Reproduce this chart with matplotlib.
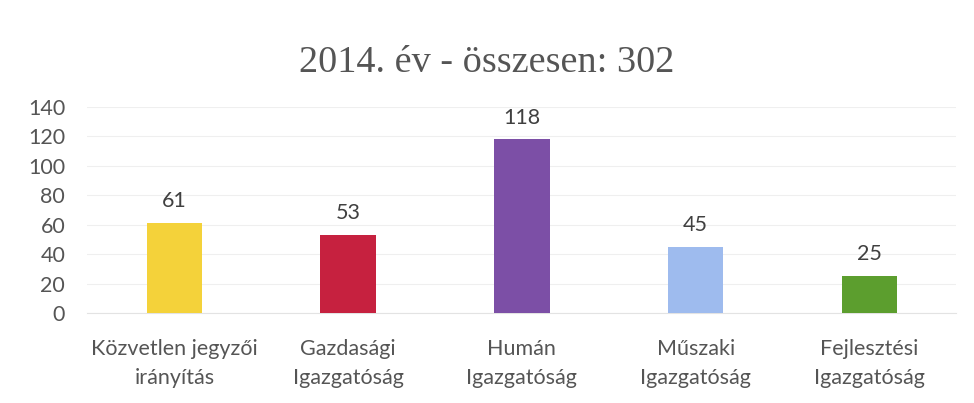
import matplotlib.pyplot as plt
import numpy as np

categories = ["Közvetlen jegyzői\nirányítás", "Gazdasági\nIgazgatóság", "Humán\nIgazgatóság",
              "Műszaki\nIgazgatóság", "Fejlesztési\nIgazgatóság"]
values = [61, 53, 118, 45, 25]
colors = ["#F4D23A", "#C6213F", "#7C4FA6", "#9EBBEE", "#5C9E2E"]
yticks = [0, 20, 40, 60, 80, 100, 120, 140]

text_color = "#555555"

fig = plt.figure(figsize=(9.74, 4.03), dpi=100)
ax = fig.add_axes([0.0898, 0.2233, 0.892, 0.5112])

x = np.arange(len(categories))
ax.bar(x, values, width=0.32, color=colors, zorder=3)
for xi, v in zip(x, values):
    ax.text(xi, v + 8, str(v), ha="center", va="bottom", fontsize=15.5,
            family="Lato", color="#404040")

ax.set_xlim(-0.5, len(categories) - 0.5)
ax.set_ylim(0, 140)
ax.set_yticks(yticks)
ax.set_xticks(x)
ax.set_xticklabels(categories, fontsize=15.5, family="Lato", color=text_color, linespacing=1.55)
for lab in ax.get_yticklabels():
    lab.set_fontsize(15.5)
    lab.set_family("Lato")
    lab.set_color(text_color)
ax.tick_params(axis="both", length=0)
ax.tick_params(axis="y", pad=16)
ax.tick_params(axis="x", pad=19)
ax.grid(axis="y", color="#EFEFEF", lw=0.8, zorder=0)
for s in ["top", "right", "left"]:
    ax.spines[s].set_visible(False)
ax.spines["bottom"].set_color("#E3E3E3")

fig.text(0.5, 0.845, "2014. év - összesen: 302", ha="center", va="center",
         fontsize=27.5, family="Liberation Serif", color="#555555")

fig.savefig("out.png", dpi=100)
